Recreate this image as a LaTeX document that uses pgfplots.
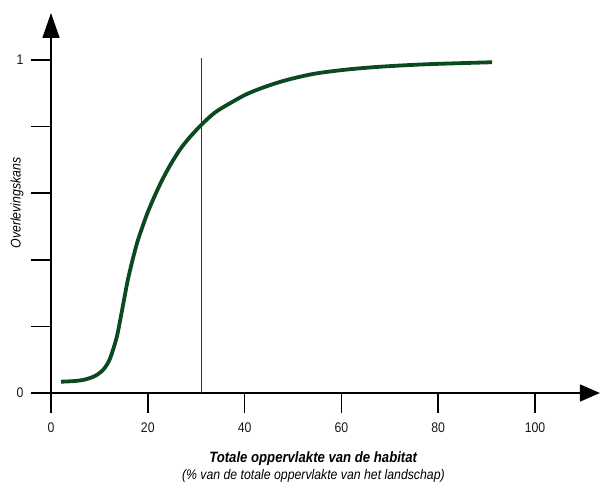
\documentclass[border=0pt]{standalone}
\usepackage{fontspec}
\setmainfont{Liberation Sans}[FakeStretch=0.88]
\usepackage{pgfplots}
\pgfplotsset{compat=1.18}
\usetikzlibrary{arrows.meta}
\definecolor{curvegreen}{HTML}{0B4A1F}

\begin{document}
\begin{tikzpicture}[x=1bp,y=1bp]
% page = 602 x 483 px, axis origin at px (51,393)
\useasboundingbox (-51,-90) rectangle (551,393);
\begin{axis}[
  at={(0,0)}, anchor=origin,
  scale only axis,
  width=548.9bp, height=380bp,
  xmin=0, xmax=113.4, ymin=0, ymax=1.141,
  axis lines*=left,
  axis line style={line width=1.6bp, black},
  x axis line style={-{Triangle[length=20bp,width=17bp]}},
  y axis line style={-{Triangle[length=25bp,width=17bp]}},
  tick align=outside,
  major tick length=20bp,
  tick style={line width=1.6bp, black},
  xtick={0,20,40,60,80,100},
  ytick={0,0.2,0.4,0.6,0.8,1},
  yticklabels={0,,,,,1},
  /pgf/number format/assume math mode=true,
  tick label style={font=\fontsize{14}{16}\selectfont, text=black!90},
  xticklabel style={yshift=-6bp},
  yticklabel style={xshift=-4bp},
  xlabel={\textbf{\textit{Totale oppervlakte van de habitat}}\\[0bp]{\fontsize{14}{16}\selectfont\itshape (\% van de totale oppervlakte van het landschap)}},
  xlabel style={font=\fontsize{15}{17}\selectfont, align=center,
    at={(axis description cs:0.478,-0.196)}, anchor=center},
  ylabel={\textit{Overlevingskans}},
  ylabel style={font=\fontsize{14}{16}\selectfont,
    at={(axis description cs:-0.062,0.50)}, anchor=center},
  clip=false,
]
% survival probability curve
\addplot[curvegreen, line width=3.8bp, smooth] coordinates {
  (2.07,0.0339) (4.96,0.0360) (7.02,0.0405) (9.09,0.0511) (10.74,0.0691)
  (11.98,0.0961) (12.87,0.1321) (13.64,0.1712) (14.26,0.2162) (15.08,0.2793)
  (15.70,0.3273) (16.32,0.3680) (17.15,0.4165) (18.04,0.4625) (19.77,0.5345)
  (21.28,0.5871) (22.87,0.6366) (24.59,0.6832) (26.65,0.7312) (28.72,0.7688)
  (31.14,0.8063) (33.88,0.8423) (36.98,0.8700) (40.29,0.8964) (43.86,0.9174)
  (48.35,0.9384) (54.19,0.9580) (60.74,0.9706) (67.98,0.9796) (77.69,0.9871)
  (91.12,0.9931)
};
% threshold line
\addplot[black!80, line width=1.2bp] coordinates {(31.1,0) (31.1,1.005)};
\end{axis}
\end{tikzpicture}
\end{document}
